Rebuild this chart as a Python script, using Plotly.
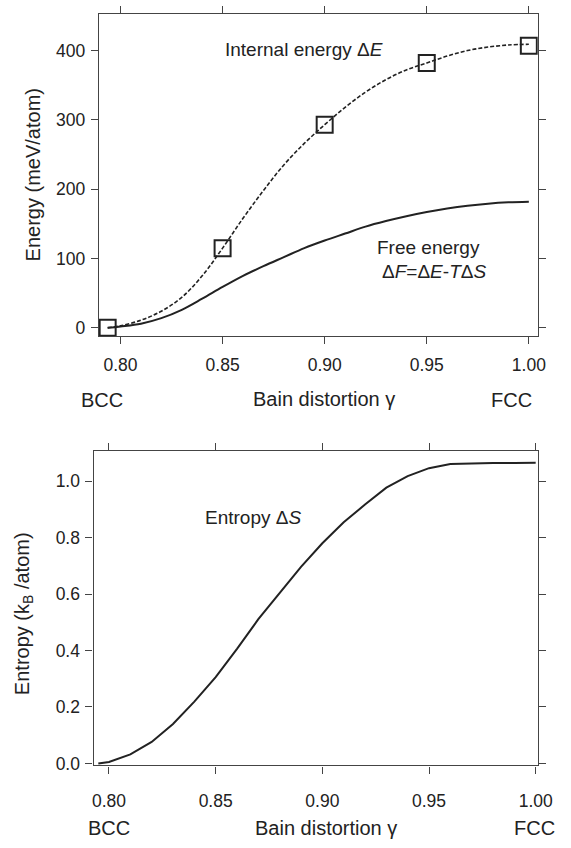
import plotly.graph_objects as go

# ---- data ----
gamma_pts = [0.7937, 0.85, 0.90, 0.95, 1.00]
E_pts = [0, 115, 293, 382, 407]

gamma_E = [0.7937, 0.80, 0.81, 0.82, 0.83, 0.84, 0.85, 0.86, 0.87, 0.88, 0.89,
           0.90, 0.91, 0.92, 0.93, 0.94, 0.95, 0.96, 0.97, 0.98, 0.99, 1.00]
E_curve = [0, 3, 11, 24, 44, 75, 115, 158, 198, 235, 266,
           293, 318, 340, 358, 372, 382, 392, 400, 405, 408, 409]

gamma_F = [0.7937, 0.80, 0.81, 0.82, 0.83, 0.84, 0.85, 0.86, 0.87, 0.88, 0.89,
           0.90, 0.91, 0.92, 0.93, 0.94, 0.95, 0.96, 0.97, 0.98, 0.99, 1.00]
F_curve = [0, 2, 6, 14, 26, 42, 59, 75, 89, 102, 115,
           126, 136, 146, 154, 161, 167, 172, 176, 179, 181, 182]

gamma_S = [0.795, 0.80, 0.81, 0.82, 0.83, 0.84, 0.85, 0.86, 0.87, 0.88, 0.89,
           0.90, 0.91, 0.92, 0.93, 0.94, 0.95, 0.96, 0.97, 0.98, 0.99, 1.00]
S_curve = [0.0, 0.005, 0.032, 0.076, 0.14, 0.219, 0.306, 0.406, 0.511, 0.605, 0.696,
           0.780, 0.854, 0.917, 0.977, 1.018, 1.046, 1.061, 1.063, 1.064, 1.064, 1.065]

x_ticks = [0.80, 0.85, 0.90, 0.95, 1.00]
x_ticktext = ["0.80", "0.85", "0.90", "0.95", "1.00"]
E_ticks = [0, 100, 200, 300, 400]
S_ticks = [0.0, 0.2, 0.4, 0.6, 0.8, 1.0]
S_ticktext = ["0.0", "0.2", "0.4", "0.6", "0.8", "1.0"]

W, H = 571, 848
def px(x):
    return x / W
def py(y):
    return 1 - y / H

ink = "#222222"
frame = "#444444"
FONT = "Liberation Sans, Arial, Helvetica, sans-serif"

fig = go.Figure()
fig.add_trace(go.Scatter(x=gamma_E, y=E_curve, mode="lines", line=dict(color=ink, width=1.6, dash="4px,2px"),
                         line_shape="spline", xaxis="x", yaxis="y", showlegend=False))
fig.add_trace(go.Scatter(x=gamma_F, y=F_curve, mode="lines", line=dict(color=ink, width=2.0),
                         line_shape="spline", xaxis="x", yaxis="y", showlegend=False))
fig.add_trace(go.Scatter(x=gamma_pts, y=E_pts, mode="markers",
                         marker=dict(symbol="square-open", size=16, color=ink, line=dict(width=2, color=ink)),
                         xaxis="x", yaxis="y", showlegend=False))
fig.add_trace(go.Scatter(x=gamma_S, y=S_curve, mode="lines", line=dict(color=ink, width=2.0),
                         xaxis="x2", yaxis="y2", showlegend=False))

axis_common = dict(showline=True, linecolor=frame, linewidth=1.3, mirror="ticks", ticks="outside",
                   ticklen=7, tickwidth=1.3, tickcolor=frame, showgrid=False, zeroline=False,
                   tickfont=dict(family=FONT, size=17.5, color=ink))

fig.update_layout(
    width=W, height=H, margin=dict(l=0, r=0, t=0, b=0),
    paper_bgcolor="white", plot_bgcolor="white",
    font=dict(family=FONT, color=ink),
    xaxis=dict(domain=[px(100.7), px(552.3)], range=[0.7894, 1.0044], anchor="y",
               tickvals=x_ticks, ticktext=x_ticktext, ticklabelstandoff=6, **axis_common),
    yaxis=dict(domain=[py(339.3), py(14)], range=[-11.9, 452.9], anchor="x",
               tickvals=E_ticks, ticklabelstandoff=2, **axis_common),
    xaxis2=dict(domain=[px(95.3), px(552.3)], range=[0.7928, 1.001], anchor="y2",
                tickvals=x_ticks, ticktext=x_ticktext, ticklabelstandoff=12, **axis_common),
    yaxis2=dict(domain=[py(772.7), py(455.3)], range=[-0.007, 1.1067], anchor="x2",
                tickvals=S_ticks, ticktext=S_ticktext, ticklabelstandoff=2, **axis_common),
)

def ann(text, x, y, size=19, angle=0):
    fig.add_annotation(text=text, x=px(x), y=py(y), xref="paper", yref="paper",
                       showarrow=False, xanchor="center", yanchor="middle", textangle=angle,
                       font=dict(family=FONT, size=size, color=ink))

# top panel labels
ann("Internal energy \u0394<i>E</i>", 312, 50)
ann("Free energy", 440, 250)
ann("\u0394<i>F</i>=\u0394<i>E</i>-<i>T</i>\u0394<i>S</i>", 445, 274)
ann("BCC", 104, 404, size=20)
ann("FCC", 525, 404, size=20)
ann("Bain distortion \u03b3", 332, 403, size=20)
ann("Energy (meV/atom)", 33, 177, size=20, angle=-90)

# bottom panel labels
ann("Entropy \u0394<i>S</i>", 259, 522)
ann("BCC", 111, 836, size=20)
ann("FCC", 549, 836, size=20)
ann("Bain distortion \u03b3", 334, 836, size=20)
ann("Entropy (k<sub>B</sub> /atom)", 22.6, 619, size=20, angle=-90)

fig.write_html("out.html")
